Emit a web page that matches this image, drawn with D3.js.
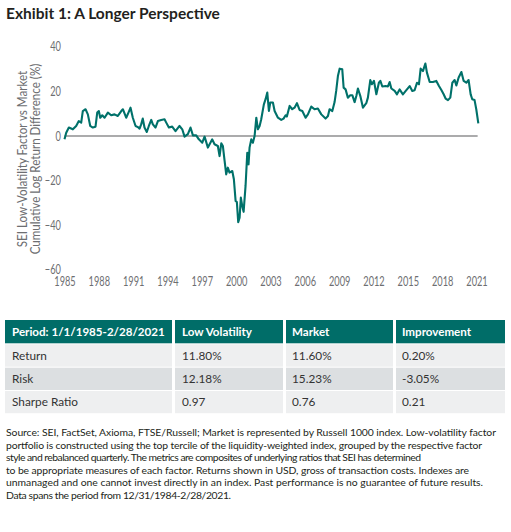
<!DOCTYPE html>
<html><head><meta charset="utf-8">
<script src="https://cdn.jsdelivr.net/npm/d3@7"></script>
<style>
html,body{margin:0;padding:0;background:#fff;}
svg{display:block;}
</style></head>
<body>
<svg id="chart" width="511" height="532"></svg>
<script>
const title = "Exhibit 1: A Longer Perspective";
const yLabelLines = ["SEI Low-Volatility Factor vs Market", "Cumulative Log Return Difference (%)"];
const yTicks = [40, 20, 0, -20, -40, -60];
const xTicks = [1985,1988,1991,1994,1997,2000,2003,2006,2009,2012,2015,2018,2021];

const years = [1985.00,1985.15,1985.38,1985.73,1986.02,1986.25,1986.46,1986.60,1986.84,1987.04,1987.25,1987.47,1987.71,1987.86,1988.00,1988.12,1988.30,1988.50,1988.79,1989.08,1989.37,1989.66,1989.96,1990.10,1990.39,1990.59,1990.77,1990.97,1991.21,1991.41,1991.56,1991.70,1991.84,1991.99,1992.19,1992.37,1992.58,1992.72,1992.95,1993.16,1993.45,1993.74,1993.89,1994.12,1994.41,1994.70,1995.05,1995.29,1995.49,1995.78,1996.01,1996.22,1996.51,1996.74,1997.04,1997.24,1997.53,1997.91,1998.11,1998.40,1998.55,1998.70,1998.84,1998.99,1999.13,1999.27,1999.42,1999.66,1999.80,1999.95,2000.06,2000.18,2000.30,2000.41,2000.53,2000.65,2000.82,2000.97,2001.08,2001.17,2001.32,2001.46,2001.61,2001.76,2001.90,2002.05,2002.19,2002.42,2002.57,2002.72,2002.86,2002.98,2003.21,2003.36,2003.65,2003.94,2004.14,2004.32,2004.43,2004.67,2004.90,2005.10,2005.31,2005.54,2005.78,2006.07,2006.27,2006.56,2006.85,2007.14,2007.44,2007.81,2008.02,2008.16,2008.40,2008.60,2008.74,2008.89,2009.04,2009.27,2009.39,2009.56,2009.76,2009.97,2010.15,2010.35,2010.50,2010.64,2010.85,2011.08,2011.37,2011.51,2011.72,2011.86,2012.04,2012.25,2012.47,2012.60,2012.77,2013.06,2013.26,2013.41,2013.56,2013.85,2014.05,2014.28,2014.57,2014.87,2015.16,2015.39,2015.59,2015.80,2015.97,2016.12,2016.32,2016.53,2016.67,2016.91,2017.19,2017.49,2017.72,2017.93,2018.13,2018.30,2018.51,2018.71,2018.89,2019.09,2019.24,2019.44,2019.68,2019.88,2020.11,2020.31,2020.49,2020.63,2020.83,2020.98,2021.16];
const diffValues = [-1.5,1.5,3.8,3.0,4.5,6.7,6.0,11.2,12.0,9.7,4.5,3.8,4.2,10.5,11.2,8.2,9.3,8.2,10.5,9.3,9.7,9.0,11.2,12.0,8.2,10.5,12.7,8.2,4.5,4.0,3.3,5.2,7.8,3.8,1.8,4.5,7.2,5.2,3.8,6.7,7.2,7.5,6.0,3.8,4.2,2.2,4.5,3.0,-0.3,0.8,3.8,0.3,0.3,-1.5,-3.0,-0.3,-5.2,-1.5,-3.7,-4.5,-9.0,-3.3,-4.5,-11.2,-17.2,-14.2,-16.4,-15.7,-19.4,-29.1,-29.6,-38.6,-36.6,-27.6,-31.4,-34.0,-22.4,-7.5,-12.7,-5.2,-1.5,-3.0,0.0,8.2,3.0,4.5,7.5,14.2,16.5,19.5,11.2,15.0,15.0,11.2,8.2,7.2,7.8,9.3,8.7,13.5,12.0,12.7,14.7,11.7,11.2,8.2,9.7,13.2,12.0,12.3,9.7,7.8,9.0,12.0,11.2,15.2,20.2,26.9,30.2,29.9,21.7,20.9,17.2,18.3,18.3,15.2,17.9,21.3,17.9,12.7,14.7,17.2,25.1,23.2,24.7,18.7,23.9,24.7,22.2,22.4,22.2,24.2,21.3,20.2,18.7,20.9,18.7,20.6,22.4,20.2,20.5,23.9,23.2,30.2,29.1,32.5,28.4,24.2,24.2,24.7,22.4,20.6,18.7,16.8,16.1,17.2,23.9,25.1,22.7,26.2,28.7,24.7,23.9,25.1,18.7,16.5,16.1,12.0,5.7];

const tableHeader = ["Period: 1/1/1985-2/28/2021", "Low Volatility", "Market", "Improvement"];
const rowLabels = ["Return", "Risk", "Sharpe Ratio"];
const lowVolatility = ["11.80%", "12.18%", "0.97"];
const market = ["11.60%", "15.23%", "0.76"];
const improvement = ["0.20%", "-3.05%", "0.21"];

const footnoteLines = [
  "Source: SEI, FactSet, Axioma, FTSE/Russell; Market is represented by Russell 1000 index. Low-volatility factor",
  "portfolio is constructed using the top tercile of the liquidity-weighted index, grouped by the respective factor",
  "style and rebalanced quarterly. The metrics are composites of underlying ratios that SEI has determined",
  "to be appropriate measures of each factor. Returns shown in USD, gross of transaction costs. Indexes are",
  "unmanaged and one cannot invest directly in an index. Past performance is no guarantee of future results.",
  "Data spans the period from 12/31/1984-2/28/2021."
];
const footnoteWidths = [490, 476, 415, 463, 477, 225];

const svg = d3.select("#chart");
const teal = "#00716a";
const axisFont = "Lato,'Open Sans',sans-serif";
const bodyFont = "Lato,'Open Sans',sans-serif";
const squeeze = 0.74;

// Title
svg.append("text").attr("x", 6).attr("y", 19)
  .attr("font-family", bodyFont).attr("font-weight", 700).attr("font-size", 15.5)
  .attr("fill", "#231f20").text(title);

// Scales
const x = d3.scaleLinear().domain([1985, 2021]).range([64.5, 476.5]);
const y = d3.scaleLinear().domain([-60, 40]).range([269.8, 46.8]);

// Y axis
const yAxis = svg.append("g").attr("transform", "translate(65,0)")
  .call(d3.axisLeft(y).tickValues(yTicks).tickSize(0).tickPadding(5.5).tickFormat(d3.format("d")));
yAxis.select(".domain").remove();
yAxis.selectAll("text").attr("font-family", axisFont).attr("font-size", 12.5).attr("fill", "#6d6e71")
  .attr("transform", `scale(${squeeze},1)`);

// X axis
const xAxis = svg.append("g").attr("transform", "translate(0,277.5)")
  .call(d3.axisBottom(x).tickValues(xTicks).tickSize(0).tickPadding(0).tickFormat(d3.format("d")));
xAxis.select(".domain").remove();
xAxis.selectAll("text").attr("font-family", axisFont).attr("font-size", 12.5).attr("fill", "#6d6e71")
  .attr("transform", `scale(${squeeze},1)`);

// Y label
const yl = svg.append("text").attr("transform", `translate(0,159) rotate(-90) scale(0.86,1)`)
  .attr("text-anchor", "middle").attr("font-family", axisFont).attr("font-size", 13.5).attr("fill", "#6d6e71");
yLabelLines.forEach((t, i) => yl.append("tspan").attr("x", 0).attr("y", 27 + i * 13).text(t));

// Zero line
svg.append("line").attr("x1", x(1985)).attr("x2", x(2021.1)).attr("y1", y(0)).attr("y2", y(0))
  .attr("stroke", "#58595b").attr("stroke-width", 1.2);

// Series line
const pts = years.map((yr, i) => [yr, diffValues[i]]);
svg.append("path").datum(pts)
  .attr("fill", "none").attr("stroke", teal).attr("stroke-width", 2.1).attr("stroke-linejoin", "round")
  .attr("d", d3.line().x(d => x(d[0])).y(d => y(d[1])));

// Table
const colX = [5, 175, 286, 396];
const colW = [167, 108, 107, 109];
const textX = [12, 182, 292, 402];
const rowY = [320, 344.3, 367.7, 391];
const rowH = [23.3, 22.4, 22.3, 22.2];
const rowFill = ["#006d68", "#eeeff0", "#dcdfe1", "#eeeff0"];
const tableRows = [tableHeader].concat(rowLabels.map((r, i) => [r, lowVolatility[i], market[i], improvement[i]]));
const tg = svg.append("g");
tableRows.forEach((row, ri) => {
  row.forEach((cell, ci) => {
    tg.append("rect").attr("x", colX[ci]).attr("y", rowY[ri]).attr("width", colW[ci]).attr("height", rowH[ri])
      .attr("fill", rowFill[ri]);
    tg.append("text").attr("x", textX[ci]).attr("y", rowY[ri] + rowH[ri] / 2)
      .attr("dy", "0.36em")
      .attr("font-family", bodyFont).attr("font-size", ri === 0 ? 11.6 : 11.8)
      .attr("font-weight", ri === 0 ? 700 : 400)
      .attr("fill", ri === 0 ? "#ffffff" : "#333333")
      .text(cell);
  });
});

// Footnote
const fg = svg.append("g").attr("font-family", bodyFont).attr("font-size", 10.4).attr("fill", "#231f20");
footnoteLines.forEach((t, i) => fg.append("text")
  .attr("x", 6).attr("y", 436 + i * 12.6)
  .attr("textLength", footnoteWidths[i]).attr("lengthAdjust", "spacing")
  .text(t));
</script>
</body></html>
